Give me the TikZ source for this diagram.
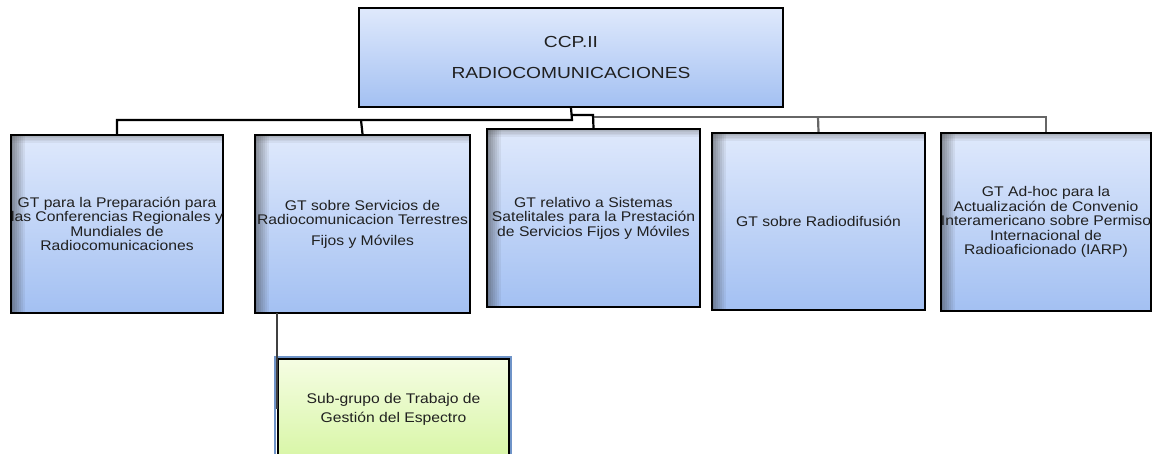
\documentclass[tikz,border=0pt]{standalone}
\usepackage{fontspec}
\setmainfont{Liberation Sans}
\newfontfamily\boxfont[FakeStretch=1.12]{Liberation Sans}
\newfontfamily\topfont[FakeStretch=1.2]{Liberation Sans}
\definecolor{bluetop}{HTML}{DFE9FC}
\definecolor{bluebot}{HTML}{A3C0F2}
\definecolor{greentop}{HTML}{F5FDE3}
\definecolor{greenbot}{HTML}{D8F6A6}
\definecolor{glow}{HTML}{6F94C8}
\definecolor{txt}{HTML}{202020}
\tikzset{
  x=1pt, y=-1pt,
  topbox/.style={draw=black, line width=2.2pt, top color=bluetop, bottom color=bluebot,
    minimum width=424pt, minimum height=99pt, inner sep=0pt, text=txt,
    font=\topfont\fontsize{16}{19}\selectfont, align=center},
  gtbox/.style={draw=black, line width=2.2pt, top color=bluetop, bottom color=bluebot,
    inner sep=0pt, text=txt, font=\boxfont\fontsize{14}{14.5}\selectfont, align=center,
    path picture={
      \foreach \i [evaluate=\i as \op using 0.5*(1-\i/7)] in {0,...,6}
        \fill[black!80, opacity=\op]
          ([xshift=\i*2pt]path picture bounding box.north west) rectangle
          ([xshift=\i*2pt+2pt]path picture bounding box.south west);
      \foreach \i [evaluate=\i as \op using 0.35*(1-\i/5)] in {0,...,4}
        \fill[black!70, opacity=\op]
          ([yshift=-\i*1.6pt]path picture bounding box.north west) rectangle
          ([yshift=-\i*1.6pt-1.6pt]path picture bounding box.north east);
    }},
  subbox/.style={draw=black, line width=2.2pt, top color=greentop, bottom color=greenbot,
    minimum width=231pt, minimum height=100pt, inner sep=0pt, text=txt,
    font=\boxfont\fontsize{14}{19}\selectfont, align=center},
  busblack/.style={draw=black, line width=2.2pt},
  busgray/.style={draw=black!60, line width=2.2pt},
}
\begin{document}
\begin{tikzpicture}
\useasboundingbox (0,0) rectangle (1156,453);
\clip (0,0) rectangle (1156,453);
\fill[white] (0,0) rectangle (1156,453);

\coordinate (j0) at (572,120);
\coordinate (jl) at (117,120);
\coordinate (j2) at (361,120);
\coordinate (jd) at (572,115);
\coordinate (jd2) at (593,115);
\coordinate (jg) at (593,117);
\coordinate (jg4) at (818,117);
\coordinate (jg5) at (1046,117);
\coordinate (sd) at (277,313);

\node[topbox] (top) at (571,57.5) {CCP.II\\[12pt]RADIOCOMUNICACIONES};

\node[gtbox, minimum width=212pt, minimum height=178pt] (b1) at (117,224)
  {GT para la Preparación para\\las Conferencias Regionales y\\Mundiales de\\Radiocomunicaciones};
\node[gtbox, minimum width=215pt, minimum height=178pt] (b2) at (362.5,224)
  {GT sobre Servicios de\\Radiocomunicacion Terrestres\\[6pt]Fijos y Móviles};
\node[gtbox, minimum width=213pt, minimum height=178pt] (b3) at (593.5,218)
  {GT relativo a Sistemas\\Satelitales para la Prestación\\de Servicios Fijos y Móviles};
\node[gtbox, minimum width=213pt, minimum height=177pt] (b4) at (818.5,221.5)
  {GT sobre Radiodifusión};
\node[gtbox, minimum width=208pt, minimum height=178pt] (b5) at (1046,222)
  {GT Ad-hoc para la\\Actualización de Convenio\\Interamericano sobre Permiso\\Internacional de\\Radioaficionado (IARP)};

\draw[glow, line width=2pt] (275,460) -- (275,357) -- (511,357) -- (511,460);
\node[subbox] (sub) at (393.5,409) {Sub-grupo de Trabajo de\\Gestión del Espectro};

\draw[busgray] (jg) -- (jg5) -- (b5.north);
\draw[busgray] (jg4) -- (b4.north);
\draw[busblack] (jd) -- (jd2) -- (b3.north);
\draw[busblack] (top.south) -- (j0) -- (jl) -- (b1.north);
\draw[busblack] (j2) -- (b2.north);
\draw[draw=black!75, line width=2pt] (sd) -- (sub.west -| sd);
\end{tikzpicture}
\end{document}
